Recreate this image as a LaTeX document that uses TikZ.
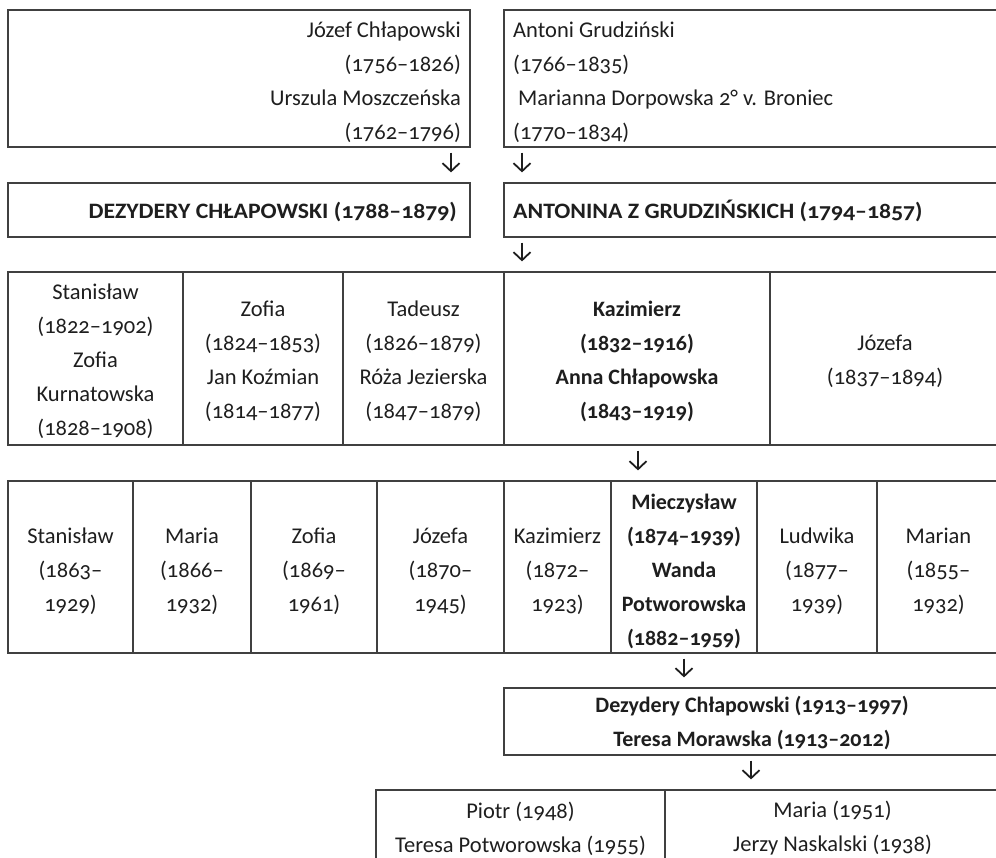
\documentclass[tikz,border=0pt]{standalone}
\usepackage{fontspec}
\setmainfont{Carlito}[Numbers=OldStyle]
\newfontfamily\capsfont{Carlito}[Numbers=OldStyle, FakeStretch=1.08]
\usetikzlibrary{arrows.meta,fit}
\definecolor{ink}{HTML}{1E1E1E}
\definecolor{rulec}{HTML}{404040}
\tikzset{
  cell/.style={draw=rulec, line width=1.2pt, inner sep=0pt},
  txt/.style={inner sep=0pt, text=ink, font=\fontsize{22.5}{34}\selectfont},
  btxt/.style={inner sep=0pt, text=ink, font=\fontsize{22}{34}\selectfont\bfseries},
  ctxt/.style={inner sep=0pt, text=ink, font=\capsfont\fontsize{22}{34}\selectfont\bfseries},
  arr/.style={draw=ink, line width=1.8pt, -{Straight Barb[length=8pt,width=17pt]}, shorten <=5pt, shorten >=10pt},
}
\begin{document}
\begin{tikzpicture}[x=1pt,y=-1pt]
\useasboundingbox (0,0) rectangle (996,858);
% row 1
\node[cell, fit={(8,10)(470,147)}] (r1L) {};
\node[cell, fit={(504,10)(1000,147)}] (r1R) {};
\node[txt, align=right, anchor=east] (tJC) at (461,82) {Józef Chłapowski\\(1756–1826)\\Urszula Moszczeńska\\(1762–1796)};
\node[txt, align=left, anchor=west] (tAG) at (513,82) {Antoni Grudziński\\(1766–1835)\\\hspace*{5pt}Marianna Dorpowska 2° v. Broniec\\(1770–1834)};
% row 2
\node[cell, fit={(8,183)(470,237)}] (r2L) {};
\node[cell, fit={(504,183)(1000,237)}] (r2R) {};
\node[ctxt, anchor=base east] (tDC) at (457,219) {DEZYDERY CHŁAPOWSKI (1788–1879)};
\node[ctxt, anchor=base west] (tAZ) at (513,219) {ANTONINA Z GRUDZIŃSKICH (1794–1857)};
% row 3
\node[cell, fit={(8,272)(183,445)}] (r3a) {};
\node[cell, fit={(183,272)(343,445)}] (r3b) {};
\node[cell, fit={(343,272)(504,445)}] (r3c) {};
\node[cell, fit={(504,272)(770,445)}] (r3d) {};
\node[cell, fit={(770,272)(1000,445)}] (r3e) {};
\node[txt, align=center] (t3a) at (95.5,361) {Stanisław\\(1822–1902)\\Zofia\\Kurnatowska\\(1828–1908)};
\node[txt, align=center] (t3b) at (263,361) {Zofia\\(1824–1853)\\Jan Koźmian\\(1814–1877)};
\node[txt, align=center] (t3c) at (423.5,361) {Tadeusz\\(1826–1879)\\Róża Jezierska\\(1847–1879)};
\node[btxt, align=center] (t3d) at (637,361) {Kazimierz\\(1832–1916)\\Anna Chłapowska\\(1843–1919)};
\node[txt, align=center] (t3e) at (885,361) {Józefa\\(1837–1894)};
% row 4
\node[cell, fit={(8,481)(133,653)}] (r4a) {};
\node[cell, fit={(133,481)(251,653)}] (r4b) {};
\node[cell, fit={(251,481)(377,653)}] (r4c) {};
\node[cell, fit={(377,481)(504,653)}] (r4d) {};
\node[cell, fit={(504,481)(611,653)}] (r4e) {};
\node[cell, fit={(611,481)(757,653)}] (r4f) {};
\node[cell, fit={(757,481)(877,653)}] (r4g) {};
\node[cell, fit={(877,481)(1000,653)}] (r4h) {};
\node[txt, align=center] (t4a) at (70.5,571) {Stanisław\\(1863–\\1929)};
\node[txt, align=center] (t4b) at (192,571) {Maria\\(1866–\\1932)};
\node[txt, align=center] (t4c) at (314,571) {Zofia\\(1869–\\1961)};
\node[txt, align=center] (t4d) at (440.5,571) {Józefa\\(1870–\\1945)};
\node[txt, align=center] (t4e) at (557.5,571) {Kazimierz\\(1872–\\1923)};
\node[btxt, align=center] (t4f) at (684,571) {Mieczysław\\(1874–1939)\\Wanda\\Potworowska\\(1882–1959)};
\node[txt, align=center] (t4g) at (817,571) {Ludwika\\(1877–\\1939)};
\node[txt, align=center] (t4h) at (938.5,571) {Marian\\(1855–\\1932)};
% row 5
\node[cell, fit={(504,688)(1000,755)}] (r5) {};
\node[btxt, align=center] (t5) at (752,723) {Dezydery Chłapowski (1913–1997)\\Teresa Morawska (1913–2012)};
% row 6
\node[cell, fit={(376,790)(665,890)}] (r6a) {};
\node[cell, fit={(665,790)(1000,890)}] (r6b) {};
\node[txt, align=center] (t6a) at (520.5,828.5) {Piotr (1948)\\Teresa Potworowska (1955)};
\node[txt, align=center] (t6b) at (832.5,828.5) {Maria (1951)\\Jerzy Naskalski (1938)};
% arrows
\coordinate (x1) at (451,0);
\coordinate (x2) at (522,0);
\coordinate (x4) at (638,0);
\coordinate (x5) at (684,0);
\coordinate (x6) at (751,0);
\draw[arr] (r1L.south -| x1) -- (r2L.north -| x1);
\draw[arr] (r1R.south -| x2) -- (r2R.north -| x2);
\draw[arr] (r2R.south -| x2) -- (r3d.north -| x2);
\draw[arr] (r3d.south -| x4) -- (r4f.north -| x4);
\draw[arr] (r4f.south -| x5) -- (r5.north -| x5);
\draw[arr] (r5.south -| x6) -- (r6b.north -| x6);
\end{tikzpicture}
\end{document}
